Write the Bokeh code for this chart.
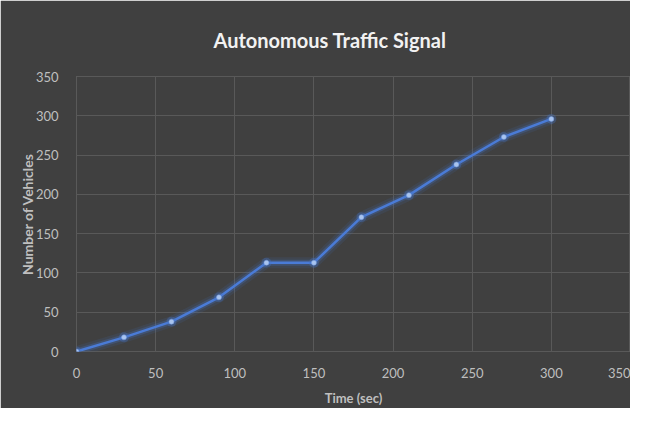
from bokeh.plotting import figure
from bokeh.models import Range1d, FixedTicker, Title
from bokeh.embed import file_html
from bokeh.resources import INLINE

time_sec = [0, 30, 60, 90, 120, 150, 180, 210, 240, 270, 300]
vehicles = [0, 18, 38, 69, 113, 113, 171, 199, 238, 273, 296]
x_ticks = [0, 50, 100, 150, 200, 250, 300, 350]
y_ticks = [0, 50, 100, 150, 200, 250, 300, 350]

BG = "#404040"
GRID = "#595959"
TXT = "#bfbfbf"
FONT = "Lato"

p = figure(width=630, height=408, output_backend="svg", toolbar_location=None,
           x_range=Range1d(0, 350), y_range=Range1d(0, 350),
           min_border_left=76, min_border_right=0, min_border_top=75, min_border_bottom=55)
p.background_fill_color = BG
p.border_fill_color = BG
p.outline_line_color = GRID

t = Title(text="Autonomous Traffic Signal", align="left", offset=137,
          text_font=FONT, text_font_size="20px", text_font_style="bold",
          text_color="#f2f2f2", standoff=50)
p.add_layout(t, "above")

for ax in (p.xaxis, p.yaxis):
    ax.axis_line_color = None
    ax.major_tick_line_color = None
    ax.minor_tick_line_color = None
    ax.major_label_text_color = TXT
    ax.major_label_text_font = FONT
    ax.major_label_text_font_size = "13px"
    ax.axis_label_text_color = TXT
    ax.axis_label_text_font = FONT
    ax.axis_label_text_font_style = "bold"

p.xaxis.ticker = FixedTicker(ticks=x_ticks)
p.yaxis.ticker = FixedTicker(ticks=y_ticks)
p.xaxis.axis_label = "Time (sec)"
p.yaxis.axis_label = "Number of Vehicles"
p.xaxis.axis_label_text_font_size = "13px"
p.yaxis.axis_label_text_font_size = "14px"
p.xaxis.major_label_standoff = 10
p.yaxis.major_label_standoff = 12
p.xaxis.axis_label_standoff = 9
p.yaxis.axis_label_standoff = -3

p.xgrid.grid_line_color = GRID
p.ygrid.grid_line_color = GRID

# glow
p.line(time_sec, vehicles, line_color="#4472c4", line_width=11, line_alpha=0.12)
p.line(time_sec, vehicles, line_color="#4472c4", line_width=6, line_alpha=0.28)
p.line(time_sec, vehicles, line_color="#4a7bd6", line_width=2.5)
p.scatter(time_sec, vehicles, size=10, fill_color="#4472c4", fill_alpha=0.35, line_color=None)
p.scatter(time_sec, vehicles, size=5, fill_color="#a9c4ee", line_color="#6f96dd", line_width=0.5)

open("out.html", "w").write(file_html(p, INLINE))
